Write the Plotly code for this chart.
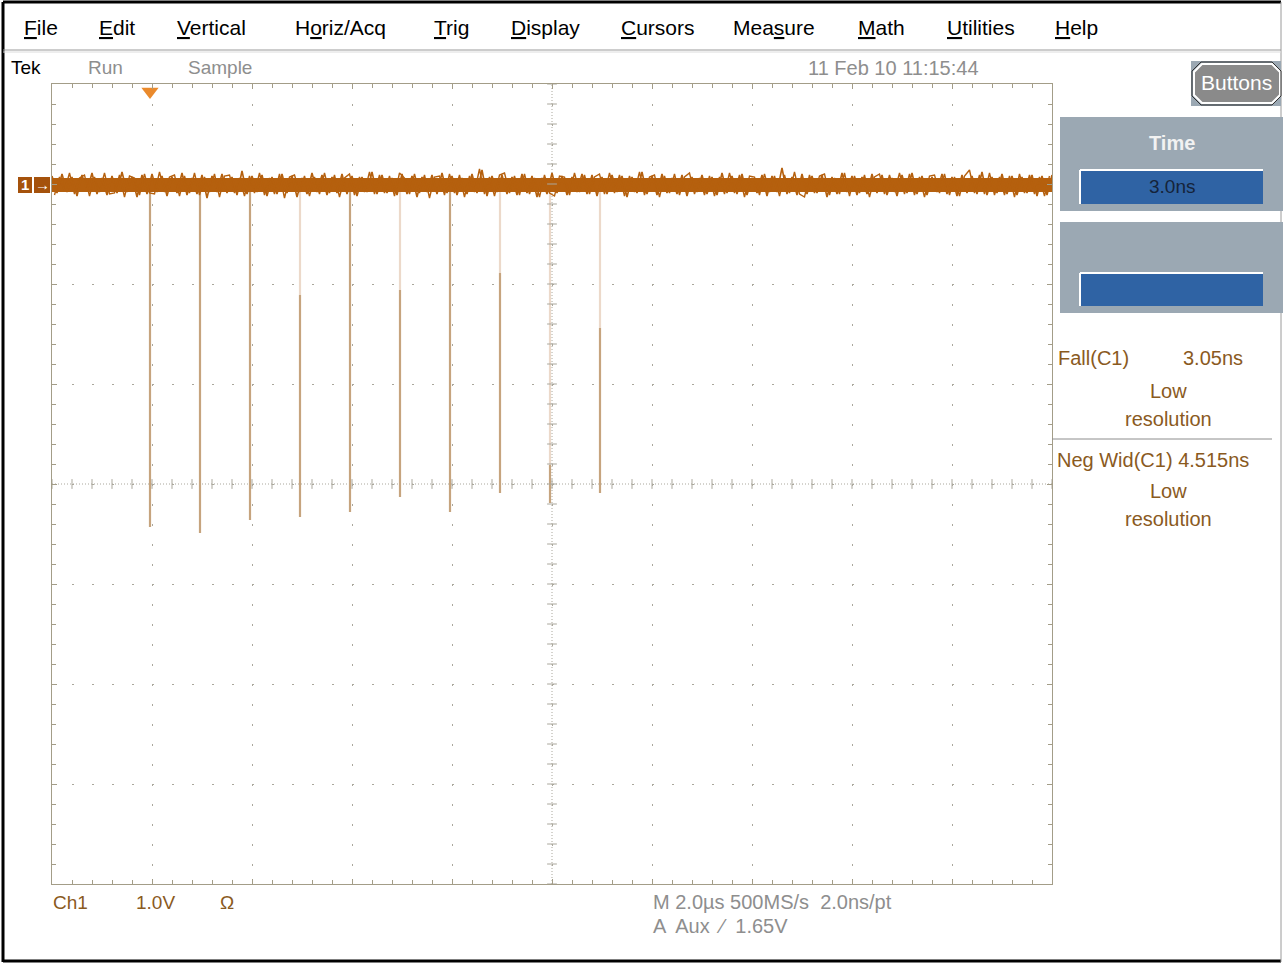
import plotly.graph_objects as go

# ---------------- data ----------------
time_range_us = [0, 20]          # 10 div x 2.0 us/div
volt_range = [-7.0, 1.0]         # 8 div x 1.0 V/div, ch1 ground 1 div below top
baseline_v = -0.01
trigger_time_us = 1.96
spike_times_us = [1.96, 2.96, 3.96, 4.96, 5.96, 6.96, 7.96, 8.96, 9.96, 10.96]
spike_min_v = [-3.43, -3.49, -3.36, -3.33, -3.28, -3.13, -3.28, -3.09, -3.19, -3.09]
spike_faint_to_v = [0, 0, 0, -1.11, 0, -1.06, 0, -0.89, -2.81, -1.44]
noise_step_us = 0.1
noise_v = [
    0.09, -0.08, 0.11, -0.07, 0.08, -0.11, 0.10, -0.06, 0.12, -0.09,
    0.07, -0.10, 0.09, -0.08, 0.13, -0.07, 0.08, -0.12, 0.10, -0.09,
    0.11, -0.07, 0.09, -0.11, 0.08, -0.08, 0.12, -0.10, 0.07, -0.09,
    0.10, -0.13, 0.09, -0.07, 0.11, -0.08, 0.08, -0.10, 0.14, -0.09,
    0.09, -0.07, 0.10, -0.11, 0.08, -0.09, 0.11, -0.08, 0.09, -0.12,
    0.07, -0.09, 0.12, -0.07, 0.10, -0.10, 0.08, -0.08, 0.11, -0.09,
    0.09, -0.11, 0.08, -0.07, 0.13, -0.09, 0.10, -0.08, 0.07, -0.10,
    0.11, -0.09, 0.09, -0.12, 0.08, -0.07, 0.10, -0.09, 0.12, -0.08,
    0.09, -0.10, 0.07, -0.09, 0.11, -0.08, 0.15, -0.11, 0.09, -0.07,
    0.10, -0.09, 0.08, -0.10, 0.11, -0.08, 0.09, -0.12, 0.07, -0.09,
    0.12, -0.08, 0.09, -0.10, 0.08, -0.07, 0.11, -0.09, 0.10, -0.11,
    0.08, -0.09, 0.10, -0.07, 0.09, -0.12, 0.08, -0.08, 0.13, -0.09,
    0.09, -0.10, 0.11, -0.08, 0.07, -0.09, 0.10, -0.11, 0.08, -0.07,
    0.10, -0.09, 0.08, -0.10, 0.12, -0.08, 0.09, -0.09, 0.11, -0.10,
    0.07, -0.08, 0.10, -0.11, 0.09, -0.07, 0.17, -0.09, 0.08, -0.10,
    0.11, -0.09, 0.09, -0.08, 0.10, -0.12, 0.08, -0.09, 0.12, -0.07,
    0.09, -0.10, 0.08, -0.09, 0.11, -0.08, 0.10, -0.10, 0.07, -0.11,
    0.10, -0.08, 0.12, -0.09, 0.09, -0.10, 0.08, -0.07, 0.11, -0.09,
    0.08, -0.11, 0.10, -0.08, 0.09, -0.09, 0.13, -0.10, 0.08, -0.08,
    0.11, -0.09, 0.09, -0.10, 0.08, -0.08, 0.10, -0.11, 0.09, -0.10,
    0.10,
]
# second, interleaved set of samples (half a step later)
noise_v2 = [
    -0.10, 0.08, -0.06, 0.12, -0.09, 0.07, 0.10, -0.11, 0.08, -0.07,
    0.12, -0.09, -0.08, 0.10, -0.12, 0.09, 0.07, -0.10, 0.11, -0.08,
    -0.09, 0.13, -0.07, 0.08, 0.10, -0.11, 0.09, -0.08, 0.12, -0.10,
    0.08, -0.07, 0.11, -0.12, 0.09, 0.10, -0.08, 0.07, -0.11, 0.09,
    -0.08, 0.12, -0.10, 0.07, -0.09, 0.11, -0.13, 0.08, 0.10, -0.07,
    0.09, -0.11, 0.08, -0.09, 0.12, -0.08, 0.10, -0.12, 0.07, 0.11,
    -0.10, 0.08, -0.07, 0.13, -0.09, 0.10, -0.08, 0.09, -0.11, 0.12,
    0.07, -0.09, 0.11, -0.08, 0.10, -0.13, 0.08, 0.09, -0.10, 0.11,
    -0.08, 0.10, -0.12, 0.09, -0.07, 0.16, -0.09, 0.08, -0.11, 0.10,
    0.12, -0.08, 0.09, -0.10, 0.11, -0.09, 0.07, -0.12, 0.10, -0.08,
    -0.11, 0.09, 0.08, -0.10, 0.12, -0.07, 0.10, -0.09, 0.08, 0.11,
    -0.09, 0.12, -0.08, 0.10, -0.11, 0.09, -0.07, 0.13, -0.10, 0.08,
    0.10, -0.12, 0.09, -0.08, 0.11, -0.10, 0.08, 0.12, -0.09, 0.07,
    -0.10, 0.09, -0.11, 0.08, -0.09, 0.12, -0.08, 0.10, -0.12, 0.09,
    0.08, -0.10, 0.11, -0.07, 0.09, -0.11, 0.10, -0.08, 0.13, -0.09,
    -0.12, 0.10, -0.08, 0.09, 0.11, -0.10, 0.07, -0.09, 0.12, -0.11,
    0.09, -0.08, 0.10, -0.12, 0.08, 0.11, -0.09, 0.10, -0.07, 0.12,
    -0.09, 0.11, -0.10, 0.08, -0.12, 0.09, 0.10, -0.08, 0.11, -0.10,
    0.08, -0.11, 0.09, 0.15, -0.08, 0.10, -0.09, 0.12, -0.10, 0.08,
    -0.10, 0.09, -0.12, 0.11, -0.08, 0.10, -0.09, 0.08, -0.11, 0.09,
]
menu_labels = [("F", "ile"), ("E", "dit"), ("V", "ertical"), ("H", "o", "riz/Acq"), ("T", "rig"),
               ("D", "isplay"), ("C", "ursors"), ("Mea", "s", "ure"), ("M", "ath"),
               ("U", "tilities"), ("H", "elp")]
menu_x_px = [22, 97, 175, 293, 432, 509, 619, 731, 856, 945, 1053]

# ---------------- layout helpers ----------------
W, H = 1283, 964
X0, X1, Y0, Y1 = 52, 1052, 84, 884


def px(x):
    return x / W


def py(y):
    return 1 - y / H


FONT = "Liberation Sans, Arial, sans-serif"
BAND = "#b5600e"
SPIKE = "#c6a47e"
SPIKE_FAINT = "#ecd9ca"
GRID = "#aaa79c"
FRAME = "#a39d88"
BROWN = "#8a5a1e"
GRAY = "#8e8e8e"

fig = go.Figure()

# spikes (faint upper part + darker lower part)
fx, fy, dx, dy = [], [], [], []
for t, vmin, vf in zip(spike_times_us, spike_min_v, spike_faint_to_v):
    if vf < 0:
        fx += [t, t, None]
        fy += [-0.07, vf, None]
        dx += [t, t, None]
        dy += [vf, vmin, None]
    else:
        dx += [t, t, None]
        dy += [-0.07, vmin, None]
fig.add_trace(go.Scatter(x=fx, y=fy, mode="lines", line=dict(color=SPIKE_FAINT, width=2.2),
                         hoverinfo="skip", showlegend=False))
fig.add_trace(go.Scatter(x=dx, y=dy, mode="lines", line=dict(color=SPIKE, width=2.2),
                         hoverinfo="skip", showlegend=False))

# noisy baseline: solid core plus two interleaved sample sets
noise_t = [i * noise_step_us for i in range(len(noise_v))]
noise_t2 = [(i + 0.5) * noise_step_us for i in range(len(noise_v2))]
fig.add_trace(go.Scatter(x=[time_range_us[0], time_range_us[1]], y=[baseline_v, baseline_v], mode="lines",
                         line=dict(color=BAND, width=14), hoverinfo="skip", showlegend=False))
fig.add_trace(go.Scatter(x=noise_t, y=[baseline_v + v for v in noise_v], mode="lines",
                         line=dict(color=BAND, width=1.6), hoverinfo="skip", showlegend=False))
fig.add_trace(go.Scatter(x=noise_t2, y=[baseline_v + v for v in noise_v2], mode="lines",
                         line=dict(color=BAND, width=1.4), hoverinfo="skip", showlegend=False))

# centre cross graticule ticks
xc = (time_range_us[0] + time_range_us[1]) / 2
yc = (volt_range[0] + volt_range[1]) / 2
fig.add_trace(go.Scatter(x=[i * 0.4 for i in range(51)], y=[yc] * 51, mode="markers",
                         marker=dict(symbol="line-ns", size=7, line=dict(width=1, color=GRID)),
                         hoverinfo="skip", showlegend=False, cliponaxis=False))
fig.add_trace(go.Scatter(x=[xc] * 41, y=[volt_range[0] + i * 0.2 for i in range(41)], mode="markers",
                         marker=dict(symbol="line-ew", size=7, line=dict(width=1, color=GRID)),
                         hoverinfo="skip", showlegend=False, cliponaxis=False))

# trigger position marker
fig.add_trace(go.Scatter(x=[trigger_time_us], y=[0.925], mode="markers",
                         marker=dict(symbol="triangle-down", size=15, color="#ea8a2c",
                                     line=dict(width=0)),
                         hoverinfo="skip", showlegend=False, cliponaxis=False))

axis_common = dict(showgrid=True, gridcolor=GRID, gridwidth=1, griddash="2px,18px",
                   zeroline=False, showline=True, linecolor=FRAME, linewidth=1,
                   mirror="allticks", ticks="inside", ticklen=5, tickcolor=FRAME,
                   showticklabels=False, fixedrange=True)
fig.update_xaxes(domain=[px(X0), px(X1)], range=time_range_us, dtick=2, tick0=0,
                 minor=dict(dtick=0.4, ticks="inside", ticklen=4, tickcolor=FRAME, showgrid=False),
                 **axis_common)
fig.update_yaxes(domain=[py(Y1), py(Y0)], range=volt_range, dtick=1, tick0=0,
                 minor=dict(dtick=0.2, ticks="inside", ticklen=4, tickcolor=FRAME, showgrid=False),
                 **axis_common)

shapes = []
# centre graticule lines
shapes.append(dict(type="line", xref="x", yref="y", x0=xc, x1=xc, y0=volt_range[0], y1=volt_range[1],
                   line=dict(color=GRID, width=1, dash="1px,2px"), layer="below"))
shapes.append(dict(type="line", xref="x", yref="y", x0=time_range_us[0], x1=time_range_us[1], y0=yc, y1=yc,
                   line=dict(color=GRID, width=1, dash="1px,2px"), layer="below"))


def prect(x0, y0, x1, y1, fill, line_color=None, lw=0):
    return dict(type="rect", xref="paper", yref="paper", x0=px(x0), x1=px(x1), y0=py(y1), y1=py(y0),
                fillcolor=fill, line=dict(color=line_color or fill, width=lw))


def pline(x0, y0, x1, y1, color, lw=1):
    return dict(type="line", xref="paper", yref="paper", x0=px(x0), x1=px(x1), y0=py(y0), y1=py(y1),
                line=dict(color=color, width=lw))


def chamfer(x0, y0, x1, y1, c):
    pts = [(x0 + c, y0), (x1 - c, y0), (x1, y0 + c), (x1, y1 - c), (x1 - c, y1), (x0 + c, y1),
           (x0, y1 - c), (x0, y0 + c)]
    return "M" + " L".join(f"{px(a):.5f},{py(b):.5f}" for a, b in pts) + " Z"


# window frame and menu separator
shapes.append(pline(3, 2, 1281, 2, "#000000", 3))
shapes.append(pline(3, 2, 3, 962, "#000000", 3))
shapes.append(pline(3, 961, 1281, 961, "#000000", 3))
shapes.append(pline(1281, 2, 1281, 962, "#9a9a9a", 1))
shapes.append(pline(3, 50, 1281, 50, "#9a9a9a", 1))
shapes.append(pline(3, 52, 1281, 52, "#dcdcdc", 1))

# channel 1 ground marker
shapes.append(prect(18, 177, 32, 193, "#a5520c"))
shapes.append(prect(34, 177, 50, 193, "#a5520c"))

# Buttons
shapes.append(prect(1191, 61, 1281, 106, "#9ba8b3"))
shapes.append(dict(type="path", xref="paper", yref="paper", path=chamfer(1194, 64, 1280, 103, 8),
                   fillcolor="#8a8a8a", line=dict(color="#ffffff", width=2)))
shapes.append(dict(type="path", xref="paper", yref="paper", path=chamfer(1192, 62, 1281, 105, 9),
                   fillcolor="rgba(0,0,0,0)", line=dict(color="#303030", width=1)))

# Time panels
shapes.append(prect(1060, 117, 1283, 211, "#9ba8b3"))
shapes.append(prect(1080, 170, 1263, 204, "#2f63a4"))
shapes.append(pline(1080, 170, 1263, 170, "#ffffff", 2))
shapes.append(pline(1080, 170, 1080, 204, "#ffffff", 2))
shapes.append(prect(1060, 222, 1283, 313, "#9ba8b3"))
shapes.append(prect(1080, 273, 1263, 306, "#2f63a4"))
shapes.append(pline(1080, 273, 1263, 273, "#ffffff", 2))
shapes.append(pline(1080, 273, 1080, 306, "#ffffff", 2))
# measurement separator
shapes.append(pline(1052, 439, 1272, 439, "#8c8c8c", 1))

ann = []


def txt(s, x, y, color, size=20, anchor="left", family=FONT):
    ann.append(dict(text=s, x=px(x), y=py(y), xref="paper", yref="paper", xanchor=anchor,
                    yanchor="middle", showarrow=False, font=dict(color=color, size=size, family=family)))


def u(ch):
    return '<span style="text-decoration:underline">' + ch + "</span>"


for parts, x in zip(menu_labels, menu_x_px):
    if len(parts) == 2:
        label = u(parts[0]) + parts[1]
    else:
        label = parts[0] + u(parts[1]) + parts[2]
    txt(label, x, 27, "#000000", 21)

txt("Tek", 9, 68, "#000000", 19)
txt("Run", 86, 68, GRAY, 19)
txt("Sample", 186, 68, GRAY, 19)
txt("11 Feb 10 11:15:44", 806, 68, GRAY, 20)

txt("<b>1</b>", 25, 185, "#ffffff", 15, anchor="center")
txt("<b>→</b>", 42, 185, "#ffffff", 15, anchor="center")

txt("Buttons", 1236, 82, "#ffffff", 21, anchor="center")
txt("<b>Time</b>", 1172, 143, "#f2f2f2", 20, anchor="center")
txt("3.0ns", 1172, 187, "#15233a", 19, anchor="center")

txt("Fall(C1)", 1056, 358, BROWN, 20)
txt("3.05ns", 1245, 358, BROWN, 20, anchor="right")
txt("Low", 1168, 391, BROWN, 20, anchor="center")
txt("resolution", 1168, 419, BROWN, 20, anchor="center")
txt("Neg Wid(C1) 4.515ns", 1055, 460, BROWN, 20)
txt("Low", 1168, 491, BROWN, 20, anchor="center")
txt("resolution", 1168, 519, BROWN, 20, anchor="center")

txt("Ch1", 51, 902, BROWN, 19)
txt("1.0V", 134, 902, BROWN, 19)
txt("Ω", 218, 902, BROWN, 19)
txt("M 2.0µs 500MS/s  2.0ns/pt", 651, 902, GRAY, 20)
txt("A  Aux  ⁄  1.65V", 651, 926, GRAY, 20)

fig.update_layout(width=W, height=H, margin=dict(l=0, r=0, t=0, b=0, pad=0),
                  paper_bgcolor="#ffffff", plot_bgcolor="#ffffff", showlegend=False,
                  shapes=shapes, annotations=ann, hovermode=False)

fig.write_html("out.html", config={"displayModeBar": False},
               post_script="document.body.style.margin='0';document.body.style.overflow='hidden';")
